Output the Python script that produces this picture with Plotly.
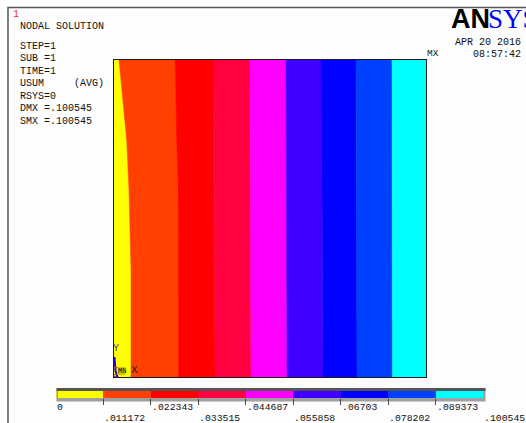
import plotly.graph_objects as go

W, H = 526, 423

# contour levels and colours
levels = [0, .011172, .022343, .033515, .044687, .055858, .06703, .078202, .089373, .100545]
level_labels = ["0", ".011172", ".022343", ".033515", ".044687", ".055858", ".06703", ".078202", ".089373", ".100545"]
band_colors = ["#ffff00", "#ff4000", "#ff0000", "#ff0040", "#ff00ff", "#4000ff", "#0000ff", "#0040ff", "#00ffff"]

# plate: width 312, height 317 (as drawn); contour lines between the bands
plate_w = 312
plate_h = 317
line_y = [317, 277, 237, 187, 147, 107, 0]
contour_x = [
    [5, 9, 12.7, 15, 16, 17, 17],
    [61, 62, 63.5, 64, 64.2, 64.4, 64.5],
    [100, 100.2, 100.4, 100.6, 100.7, 100.8, 101],
    [136, 136.2, 136.4, 136.6, 136.7, 136.8, 137],
    [172, 172.2, 172.4, 172.6, 172.7, 172.8, 173],
    [207, 207.4, 207.8, 208.2, 208.4, 208.6, 209],
    [242, 242.2, 242.4, 242.6, 242.7, 242.8, 243],
    [278, 278.1, 278.2, 278.3, 278.3, 278.4, 278.5],
]

info_lines = ["STEP=1", "SUB =1", "TIME=1", "USUM\u00a0\u00a0\u00a0\u00a0\u00a0(AVG)", "RSYS=0", "DMX =.100545", "SMX =.100545"]
MONO = "Liberation Mono, DejaVu Sans Mono, monospace"


def px(x):
    return x / W


def py(y):
    return 1 - y / H


fig = go.Figure()

# plate bands
edges = [[0] * len(line_y)] + contour_x + [[plate_w] * len(line_y)]
for i, c in enumerate(band_colors):
    fig.add_trace(go.Scatter(
        x=edges[i] + edges[i + 1][::-1],
        y=line_y + line_y[::-1],
        mode="lines", fill="toself", fillcolor=c, line=dict(color=c, width=0.5),
        hoverinfo="skip", showlegend=False, xaxis="x", yaxis="y",
    ))

# triad
fig.add_trace(go.Scatter(x=[-14, 4], y=[0.5, 0.5], mode="lines", line=dict(color="#5a50ff", width=1.5),
                         cliponaxis=False, hoverinfo="skip", showlegend=False))
fig.add_trace(go.Scatter(x=[0.5, 1.5, 3.5], y=[20, 6, 0], mode="lines", line=dict(color="#2000e8", width=2),
                         cliponaxis=False, hoverinfo="skip", showlegend=False))
fig.add_trace(go.Scatter(x=[3], y=[6], mode="markers", marker=dict(color="rgba(0,0,0,0)", size=7, symbol="square",
                         line=dict(color="#e03030", width=1)),
                         cliponaxis=False, hoverinfo="skip", showlegend=False))
fig.add_trace(go.Scatter(x=[7.5], y=[6], mode="markers", marker=dict(color="#c8c800", size=8, symbol="square"),
                         cliponaxis=False, hoverinfo="skip", showlegend=False))

# legend bar
for i, c in enumerate(band_colors):
    fig.add_trace(go.Bar(
        y=[0.5], x=[levels[i + 1] - levels[i]], base=[levels[i]], orientation="h", width=1,
        marker=dict(color=c, line=dict(width=0)), hoverinfo="skip", showlegend=False,
        xaxis="x2", yaxis="y2",
    ))

ann = []


def text(x, y, s, color="#111111", size=10, family=MONO, anchor="left"):
    ann.append(dict(x=px(x), y=py(y), xref="paper", yref="paper", text=s, showarrow=False,
                    xanchor=anchor, yanchor="middle", align="left", borderpad=0, borderwidth=0,
                    font=dict(family=family, size=size, color=color)))


text(13, 14.5, "1", color="#f03030", size=10)
text(20, 27, "NODAL SOLUTION")
for i, s in enumerate(info_lines):
    text(20, 46 + i * 12.5, s)
text(455, 42, "APR 20 2016")
text(473, 55, "08:57:42")
text(427, 54, "MX", size=9.5)
text(113, 348, "Y", color="#4030c0")
text(131, 370, "X", size=11, color="#222222")
text(118, 370.5, "MN", size=7, color="#111111")
text(451, 19, "<b>AN</b>", color="#000000", size=27, family="Liberation Sans, Arial, sans-serif")
text(488, 19, "SYS", color="#0000ff", size=27, family="Liberation Serif, Times New Roman, serif")

# colour-bar labels, staggered in two rows at their level
for i, s in enumerate(level_labels):
    ann.append(dict(x=levels[i], y=py(407 if i % 2 == 0 else 418), xref="x2", yref="paper", text=s, showarrow=False,
                    xanchor="left", yanchor="middle", borderpad=0,
                    font=dict(family=MONO, size=9.8, color="#111111")))

shapes = [
    dict(type="rect", xref="paper", yref="paper", x0=px(8), x1=px(540), y0=py(7.5), y1=py(440),
         fillcolor="#fdfdfd", line=dict(color="#555555", width=1.5), layer="below"),
    dict(type="rect", xref="paper", yref="paper", x0=px(56.5), x1=px(485.5), y0=py(388), y1=py(401.5),
         fillcolor="#a0a0a0", line=dict(width=0), layer="below"),
    dict(type="rect", xref="paper", yref="paper", x0=px(56.5), x1=px(485.5), y0=py(388), y1=py(391),
         fillcolor="#555555", line=dict(width=0), layer="below"),
    dict(type="rect", xref="paper", yref="paper", x0=px(56.5), x1=px(58), y0=py(391), y1=py(398),
         fillcolor="#a0a0a0", line=dict(width=0), layer="above"),
]

fig.update_layout(
    width=W, height=H, autosize=False,
    margin=dict(l=0, r=0, t=0, b=0),
    paper_bgcolor="#ffffff", plot_bgcolor="rgba(0,0,0,0)",
    barmode="overlay", bargap=0,
    annotations=ann, shapes=shapes, showlegend=False,
    xaxis=dict(domain=[px(114), px(426)], range=[0, plate_w], showgrid=False, zeroline=False,
               showticklabels=False, ticks="", showline=True, linecolor="#1a1a1a", linewidth=1, mirror=True),
    yaxis=dict(domain=[py(377), py(60)], range=[0, plate_h], showgrid=False, zeroline=False,
               showticklabels=False, ticks="", showline=True, linecolor="#1a1a1a", linewidth=1, mirror=True),
    xaxis2=dict(domain=[px(56), px(483)], range=[0, levels[-1]], anchor="y2", showgrid=False, zeroline=False,
                showticklabels=False, tickmode="array", tickvals=levels[1:-1], ticks="outside", ticklen=6,
                tickcolor="#444444", tickwidth=1),
    yaxis2=dict(domain=[py(398), py(391)], range=[0, 1], anchor="x2", showgrid=False, zeroline=False,
                showticklabels=False, ticks=""),
)

fig.write_html(
    "out.html",
    config=dict(displayModeBar=False),
    post_script="document.documentElement.style.overflow='hidden';document.body.style.margin='0';document.body.style.overflow='hidden';",
)
